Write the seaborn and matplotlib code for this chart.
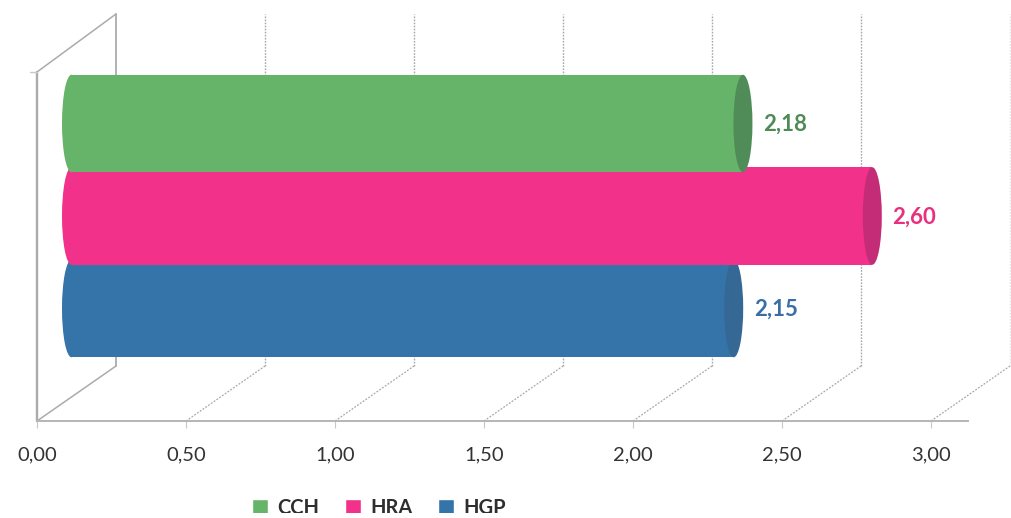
import matplotlib
matplotlib.use("Agg")
import matplotlib.pyplot as plt
from matplotlib.patches import Ellipse
from matplotlib.ticker import FuncFormatter
from matplotlib.transforms import Bbox
import pandas as pd
import seaborn as sns

# Values per hospital
hospitals = ["CCH", "HRA", "HGP"]
values = [2.18, 2.60, 2.15]
x_ticks = [0.0, 0.5, 1.0, 1.5, 2.0, 2.5, 3.0]

body_colors = ["#66B46A", "#F2328A", "#3474A9"]
cap_colors = ["#4F8C57", "#C42C78", "#366896"]
label_colors = ["#4F8A57", "#E8307F", "#3A6EA5"]

W, H = 1011, 518
sns.set_theme(style="white")
plt.rcParams["font.family"] = ["Lato", "DejaVu Sans"]

fig = plt.figure(figsize=(W / 100, H / 100), dpi=100)
fig.patch.set_facecolor("white")


def axes_rect(left, top, right, bottom):
    return [left / W, 1 - bottom / H, (right - left) / W, (bottom - top) / H]


# Box of the pseudo-3D chart: floor, left wall and back wall
frame = fig.add_axes(axes_rect(37, 14, 968, 421))
unit = 298.0
frame.set_xlim(0, (968 - 37) / unit)
frame.set_ylim(0, 407)
frame.patch.set_alpha(0)
sns.despine(ax=frame, left=True)
frame.spines["bottom"].set_color("#B5B5B5")
frame.spines["bottom"].set_linewidth(1.4)
frame.set_yticks([])
frame.set_xticks(x_ticks)
frame.xaxis.set_major_formatter(FuncFormatter(lambda v, _: f"{v:.2f}".replace(".", ",")))
frame.tick_params(axis="x", length=5, width=0.8, color="#C8C8C8", labelsize=14.5,
                  labelcolor="#333333", pad=13, bottom=True)

depth_x = 79 / unit
back_floor, back_top, front_top = 55, 407, 349
wall = dict(color="#ABABAB", clip_on=False)
frame.plot([0, 0], [0, front_top], lw=1.7, **wall)
frame.plot([0, depth_x], [front_top, back_top], lw=1.1, **wall)
frame.plot([depth_x, depth_x], [back_floor, back_top], lw=1.3, **wall)
frame.plot([0, depth_x], [0, back_floor], lw=1.1, **wall)
frame.plot([-7 / unit, 0], [front_top, front_top], lw=1.0, color="#C8C8C8", clip_on=False)
for tick in x_ticks[1:]:
    fade = 0.3 if tick == x_ticks[-1] else 1.0
    frame.plot([tick, tick + depth_x], [0, back_floor], color="#A8A8A8", lw=0.9,
               ls=(0, (1.5, 1.2)), clip_on=False)
    frame.plot([tick + depth_x] * 2, [back_floor, back_top], color="#A8A8A8", lw=1.0,
               ls=(0, (1.2, 1.0)), alpha=fade, clip_on=False)

# Cylinders sit on their own plane, slightly larger and shifted from the front axis
bars = fig.add_axes([0, 0, 1, 1])
scale, origin = 308.0, 71.5
pitch, first_row = 92.5, 123.5
bars.patch.set_alpha(0)
table = pd.DataFrame({"hospital": hospitals, "value": values})
bar_height = 97.5 / pitch
sns.barplot(data=table, x="value", y="hospital", hue="hospital", hue_order=hospitals,
            order=hospitals, palette=body_colors, dodge=False, width=bar_height,
            saturation=1, legend=True, ax=bars)
bars.set_xlim(-origin / scale, (W - origin) / scale)
bars.set_ylim((H - first_row) / pitch, -first_row / pitch)
bars.set_xticks([])
bars.set_yticks([])
bars.set_xlabel("")
bars.set_ylabel("")
sns.despine(ax=bars, left=True, bottom=True)

cap_half = 9.5 / scale
for row, (container, cap, text_color) in enumerate(zip(bars.containers, cap_colors, label_colors)):
    level = 10 - row * 2  # upper cylinders overlap the ones below
    for rect in container:
        value = rect.get_width()
        centre = rect.get_y() + rect.get_height() / 2
        rect.set_zorder(level)
        rect.set_edgecolor("none")
        bars.add_patch(Ellipse((0, centre), 2 * cap_half, rect.get_height(),
                               facecolor=rect.get_facecolor(), edgecolor="none", zorder=level))
        bars.add_patch(Ellipse((value, centre), 2 * cap_half, rect.get_height(),
                               facecolor=cap, edgecolor="none", zorder=level + 0.5))
        bars.annotate(f"{value:.2f}".replace(".", ","), (value, centre), xytext=(14.5, -0.7),
                      textcoords="offset points", ha="left", va="center", fontsize=16,
                      fontweight="bold", color=text_color, zorder=20)

# Legend row runs into the lower edge of the canvas area
legend = bars.legend(loc="center left", bbox_to_anchor=(252 / W, 1 - 507.5 / H), ncol=3,
                     frameon=False, title=None, fontsize=14.5, handlelength=0.8,
                     handleheight=0.8, handletextpad=0.45, columnspacing=1.28,
                     labelcolor="#2E2E2E", borderpad=0, borderaxespad=0)
for text in legend.get_texts():
    text.set_fontweight("bold")
visible = Bbox.from_extents(0, H - 513, W, H)
for artist in list(legend.get_texts()) + list(legend.legend_handles):
    artist.set_clip_box(visible)
    artist.set_clip_on(True)

fig.savefig("out.png", dpi=100)
